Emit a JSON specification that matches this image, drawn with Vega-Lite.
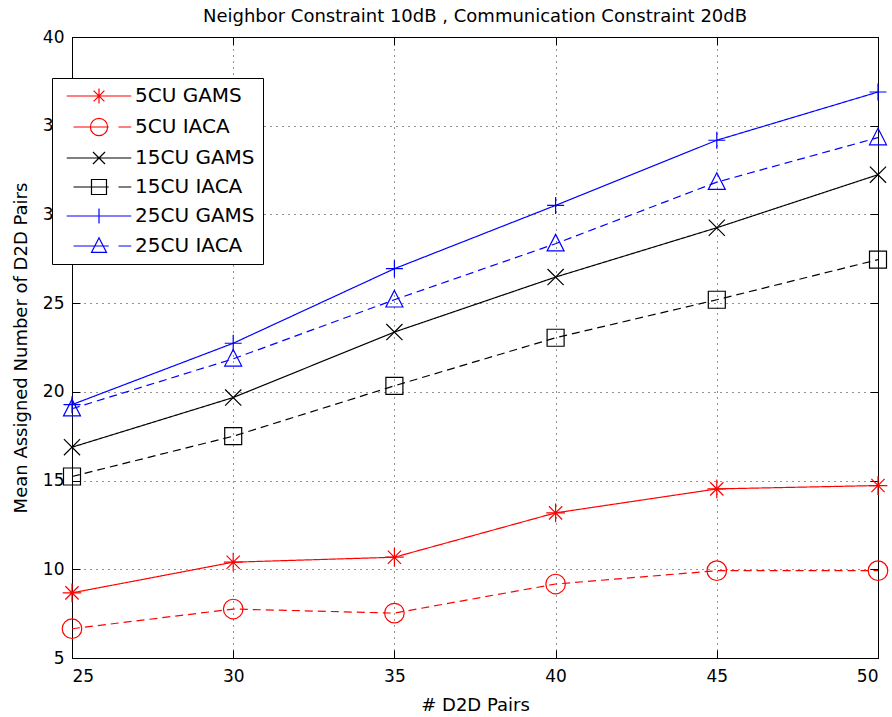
{
  "$schema": "https://vega.github.io/schema/vega-lite/v6.json",
  "autosize": "none",
  "width": 806,
  "height": 621,
  "padding": {"left": 72, "top": 37, "right": 14, "bottom": 59},
  "background": "white",
  "title": {"text": "Neighbor Constraint 10dB , Communication Constraint 20dB", "font": "DejaVu Sans", "fontSize": 18, "fontWeight": "normal", "color": "black", "anchor": "middle", "baseline": "alphabetic", "offset": -12},
  "config": {
    "view": {"stroke": "black", "strokeWidth": 1},
    "axis": {"labelFont": "DejaVu Sans", "labelFontSize": 17, "labelColor": "black", "titleFont": "DejaVu Sans", "titleFontSize": 18, "titleFontWeight": "normal", "titleColor": "black", "domain": false, "tickColor": "black", "gridColor": "black", "gridOpacity": 0.85, "gridDash": [1, 5], "gridWidth": 1}
  },
  "data": {"values": [
    {"pairs": 25, "series": "5CU GAMS", "value": 8.67},
    {"pairs": 30, "series": "5CU GAMS", "value": 10.40},
    {"pairs": 35, "series": "5CU GAMS", "value": 10.68},
    {"pairs": 40, "series": "5CU GAMS", "value": 13.18},
    {"pairs": 45, "series": "5CU GAMS", "value": 14.53},
    {"pairs": 50, "series": "5CU GAMS", "value": 14.72},
    {"pairs": 25, "series": "5CU IACA", "value": 6.65},
    {"pairs": 30, "series": "5CU IACA", "value": 7.76},
    {"pairs": 35, "series": "5CU IACA", "value": 7.53},
    {"pairs": 40, "series": "5CU IACA", "value": 9.17},
    {"pairs": 45, "series": "5CU IACA", "value": 9.92},
    {"pairs": 50, "series": "5CU IACA", "value": 9.92},
    {"pairs": 25, "series": "15CU GAMS", "value": 16.88},
    {"pairs": 30, "series": "15CU GAMS", "value": 19.68},
    {"pairs": 35, "series": "15CU GAMS", "value": 23.37},
    {"pairs": 40, "series": "15CU GAMS", "value": 26.47},
    {"pairs": 45, "series": "15CU GAMS", "value": 29.25},
    {"pairs": 50, "series": "15CU GAMS", "value": 32.24},
    {"pairs": 25, "series": "15CU IACA", "value": 15.23},
    {"pairs": 30, "series": "15CU IACA", "value": 17.50},
    {"pairs": 35, "series": "15CU IACA", "value": 20.34},
    {"pairs": 40, "series": "15CU IACA", "value": 23.05},
    {"pairs": 45, "series": "15CU IACA", "value": 25.19},
    {"pairs": 50, "series": "15CU IACA", "value": 27.45},
    {"pairs": 25, "series": "25CU GAMS", "value": 19.28},
    {"pairs": 30, "series": "25CU GAMS", "value": 22.74},
    {"pairs": 35, "series": "25CU GAMS", "value": 26.94},
    {"pairs": 40, "series": "25CU GAMS", "value": 30.51},
    {"pairs": 45, "series": "25CU GAMS", "value": 34.18},
    {"pairs": 50, "series": "25CU GAMS", "value": 36.90},
    {"pairs": 25, "series": "25CU IACA", "value": 19.05},
    {"pairs": 30, "series": "25CU IACA", "value": 21.86},
    {"pairs": 35, "series": "25CU IACA", "value": 25.19},
    {"pairs": 40, "series": "25CU IACA", "value": 28.35},
    {"pairs": 45, "series": "25CU IACA", "value": 31.82},
    {"pairs": 50, "series": "25CU IACA", "value": 34.33}
  ]},
  "resolve": {"scale": {"shape": "independent", "color": "independent"}, "axis": {"x": "independent", "y": "independent"}},
  "layer": [
    {
      "mark": {"type": "line", "strokeWidth": 1.2},
      "encoding": {
        "x": {"field": "pairs", "type": "quantitative", "scale": {"domain": [25, 50], "nice": false, "zero": false}, "axis": {"values": [25, 30, 35, 40, 45, 50], "title": "# D2D Pairs", "tickSize": -8, "labelPadding": 18, "titlePadding": 12}},
        "y": {"field": "value", "type": "quantitative", "scale": {"domain": [5, 40], "nice": false, "zero": false}, "axis": {"values": [5, 10, 15, 20, 25, 30, 35, 40], "title": "Mean Assigned Number of D2D Pairs", "tickSize": -8, "labelPadding": 16, "titlePadding": 12}},
        "color": {"field": "series", "type": "nominal", "scale": {"domain": ["5CU GAMS", "5CU IACA", "15CU GAMS", "15CU IACA", "25CU GAMS", "25CU IACA"], "range": ["#ff0000", "#ff0000", "#000000", "#000000", "#0000ff", "#0000ff"]}, "legend": null},
        "strokeDash": {"field": "series", "type": "nominal", "scale": {"domain": ["5CU GAMS", "5CU IACA", "15CU GAMS", "15CU IACA", "25CU GAMS", "25CU IACA"], "range": [[1, 0], [8, 5], [1, 0], [8, 5], [1, 0], [8, 5]]}, "legend": null}
      }
    },
    {
      "mark": {"type": "point", "filled": false, "size": 289, "strokeWidth": 1.2, "opacity": 1},
      "encoding": {
        "x": {"field": "pairs", "type": "quantitative", "axis": null},
        "y": {"field": "value", "type": "quantitative", "axis": null},
        "color": {"field": "series", "type": "nominal", "legend": null, "scale": {"domain": ["5CU GAMS", "5CU IACA", "15CU GAMS", "15CU IACA", "25CU GAMS", "25CU IACA"], "range": ["#ff0000", "#ff0000", "#000000", "#000000", "#0000ff", "#0000ff"]}},
        "shape": {"field": "series", "type": "nominal", "legend": null, "scale": {"domain": ["5CU GAMS", "5CU IACA", "15CU GAMS", "15CU IACA", "25CU GAMS", "25CU IACA"], "range": [
          "M-1.1,0H1.1M0,-1.1V1.1M-0.78,-0.78L0.78,0.78M-0.78,0.78L0.78,-0.78",
          "M-1.15,0A1.15,1.15 0 1,0 1.15,0A1.15,1.15 0 1,0 -1.15,0Z",
          "M-0.95,-0.95L0.95,0.95M-0.95,0.95L0.95,-0.95",
          "M-1,-1H1V1H-1Z",
          "M-1,0H1M0,-1V1",
          "M0,-1.1L1,0.85H-1Z"
        ]}}
      }
    },
    {
      "transform": [{"filter": "false"}],
      "mark": {"type": "point", "filled": false, "strokeWidth": 1.2, "opacity": 1},
      "encoding": {
        "x": {"field": "pairs", "type": "quantitative", "axis": null},
        "y": {"field": "value", "type": "quantitative", "axis": null},
        "color": {"field": "series", "type": "nominal", "scale": {"domain": ["5CU GAMS", "5CU IACA", "15CU GAMS", "15CU IACA", "25CU GAMS", "25CU IACA"], "range": ["#ff0000", "#ff0000", "#000000", "#000000", "#0000ff", "#0000ff"]}, "legend": {
          "title": null, "orient": "none", "legendX": -20, "legendY": 41,
          "strokeColor": "black", "fillColor": "white", "padding": 8, "cornerRadius": 0,
          "symbolSize": 225, "symbolStrokeWidth": 1.2, "symbolOffset": 29, "labelOffset": 26, "rowPadding": 9,
          "labelFont": "DejaVu Sans", "labelFontSize": 20, "labelColor": "black", "labelLimit": 300
        }},
        "shape": {"field": "series", "type": "nominal", "scale": {"domain": ["5CU GAMS", "5CU IACA", "15CU GAMS", "15CU IACA", "25CU GAMS", "25CU IACA"], "range": [
          "M-4.3,0H4.3M-1,0H1M0,-1V1M-0.72,-0.72L0.72,0.72M-0.72,0.72L0.72,-0.72",
          "M-3.4,0H1.3M2.6,0H4.3M-1.15,0A1.15,1.15 0 1,0 1.15,0A1.15,1.15 0 1,0 -1.15,0Z",
          "M-4.3,0H4.3M-0.8,-0.8L0.8,0.8M-0.8,0.8L0.8,-0.8",
          "M-3.4,0H1.3M2.6,0H4.3M-1,-1H1V1H-1Z",
          "M-4.3,0H4.3M0,-1V1",
          "M-3.4,0H1.3M2.6,0H4.3M0,-1.1L1,0.85H-1Z"
        ]}, "legend": {
          "title": null, "orient": "none", "legendX": -20, "legendY": 41,
          "strokeColor": "black", "fillColor": "white", "padding": 8, "cornerRadius": 0,
          "symbolSize": 225, "symbolStrokeWidth": 1.2, "symbolOffset": 29, "labelOffset": 26, "rowPadding": 9,
          "labelFont": "DejaVu Sans", "labelFontSize": 20, "labelColor": "black", "labelLimit": 300
        }}
      }
    },
    {
      "mark": {"type": "point", "opacity": 0},
      "encoding": {
        "x": {"field": "pairs", "type": "quantitative", "axis": {"orient": "top", "values": [25, 30, 35, 40, 45, 50], "labels": false, "grid": false, "tickSize": -8, "title": null}},
        "y": {"field": "value", "type": "quantitative", "axis": {"orient": "right", "values": [5, 10, 15, 20, 25, 30, 35, 40], "labels": false, "grid": false, "tickSize": -8, "title": null}}
      }
    }
  ]
}
